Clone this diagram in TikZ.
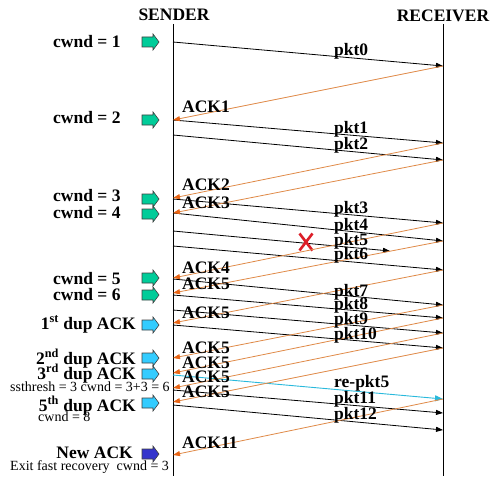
\documentclass[tikz,border=0pt]{standalone}
\usepackage{fontspec}
\setmainfont{Liberation Serif}
\usetikzlibrary{arrows.meta}
\definecolor{ackor}{RGB}{224,138,72}
\definecolor{acktip}{RGB}{232,100,20}
\definecolor{cwndg}{RGB}{0,204,153}
\definecolor{dupb}{RGB}{51,204,255}
\definecolor{newb}{RGB}{51,51,204}
\definecolor{rpkt}{RGB}{40,185,220}
\definecolor{lostx}{RGB}{220,30,40}
\begin{document}
\begin{tikzpicture}[x=1pt,y=-1pt,
  big/.style={font=\fontsize{17.5}{18}\selectfont\bfseries, inner sep=0pt},
  small/.style={font=\fontsize{14}{15}\selectfont, inner sep=0pt},
  pktline/.style={draw=black, line width=0.8pt, -{Triangle[length=7pt,width=5pt]}},
  ackline/.style={draw=ackor, line width=0.8pt, -{Triangle[length=7pt,width=5pt,color=acktip]}},
  reline/.style={draw=rpkt, line width=0.9pt, -{Triangle[length=8pt,width=6pt]}},
  lifeline/.style={draw=black, line width=1pt},
  blockarrow/.pic={\path[pic actions] (-8.5,-5) -- (2.5,-5) -- (2.5,-8) -- (8.5,0) -- (2.5,8) -- (2.5,5) -- (-8.5,5) -- cycle;},
  cwndarrow/.style={draw=black!75, line width=0.6pt, fill=cwndg},
  duparrow/.style={draw=black!75, line width=0.6pt, fill=dupb},
  newarrow/.style={draw=black!75, line width=0.6pt, fill=newb}
]
\fill[white] (0,0) rectangle (500,476);
\useasboundingbox (0,0) rectangle (500,476);

% lifelines
\node[big, anchor=base] (sender) at (174,21) {SENDER};
\node[big, anchor=base] (receiver) at (443,22) {RECEIVER};
\coordinate (stop) at (173,24); \coordinate (sbot) at (173,476);
\coordinate (rtop) at (443,24); \coordinate (rbot) at (443,476);
\draw[lifeline] (stop) -- (sbot);
\draw[lifeline] (rtop) -- (rbot);

% data packets
\foreach \a/\b [count=\i] in {42/66,120/143,135/160,199/223,213/241,246/270,279/305,295/318,310/333,325/348,390/413,405/430}{
  \coordinate (ps\i) at (173,\a);
  \coordinate (pr\i) at (443,\b);
  \draw[pktline] (ps\i) -- (pr\i);
}
% lost packet
\coordinate (lostS) at (173,231);
\coordinate (lostE) at (390,251);
\draw[pktline] (lostS) -- (lostE);
\coordinate (xc) at (306,242);
\draw[lostx, line width=2.6pt] ([shift={(-6.5,-8.5)}]xc) -- ([shift={(6.5,8.5)}]xc);
\draw[lostx, line width=2.6pt] ([shift={(6.5,-8.5)}]xc) -- ([shift={(-6.5,8.5)}]xc);
% retransmission
\coordinate (reS) at (173,375);
\coordinate (reR) at (443,399);
\draw[reline] (reS) -- (reR);

% acks
\foreach \a/\b [count=\i] in {66/120,143/198,160/213,223/278,241/293,270/323,305/358,318/373,333/388,348/402,399/455}{
  \coordinate (ar\i) at (443,\a);
  \coordinate (as\i) at (173,\b);
  \draw[ackline] (ar\i) -- (as\i);
}

% packet labels
\foreach \t/\y [count=\i] in {pkt0/56,pkt1/133,pkt2/149,pkt3/213,pkt4/230,pkt5/245,pkt6/259,pkt7/296,pkt8/309,pkt9/324,pkt10/339,re-pkt5/387,pkt11/403,pkt12/419}{
  \node[big, anchor=base west] (pl\i) at (334,\y) {\t};
}
% ack labels
\foreach \t/\y [count=\i] in {ACK1/113,ACK2/190,ACK3/208,ACK4/273,ACK5/289,ACK5/318,ACK5/353,ACK5/368,ACK5/382,ACK5/397,ACK11/448}{
  \node[big, anchor=base west] (al\i) at (182,\y) {\t};
}

% left side labels
\foreach \t/\y/\ya [count=\i] in {1/48/42,2/124/120,3/201/199,4/218/214,5/284/278,6/300/295}{
  \node[big, anchor=base west] (cw\i) at (53,\y) {cwnd = \t};
  \pic[cwndarrow] at (150.5,\ya) {blockarrow};
}
\node[big, anchor=base east] (dup1) at (136,329) {1\textsuperscript{st} dup ACK};
\node[big, anchor=base east] (dup2) at (136,364) {2\textsuperscript{nd} dup ACK};
\node[big, anchor=base east] (dup3) at (136,379) {3\textsuperscript{rd} dup ACK};
\node[big, anchor=base east] (dup5) at (136,411) {5\textsuperscript{th} dup ACK};
\pic[duparrow] at (150.5,325) {blockarrow};
\pic[duparrow] at (150.5,358) {blockarrow};
\pic[duparrow] at (150.5,374) {blockarrow};
\pic[duparrow] at (150.5,403) {blockarrow};
\node[small, anchor=base west] (ss) at (10,391) {ssthresh = 3 cwnd = 3+3 = 6};
\node[small, anchor=base west] (cw8) at (38,421) {cwnd = 8};
\node[big, anchor=base east] (newack) at (133,458) {New ACK};
\pic[newarrow] at (150.5,454) {blockarrow};
\node[small, anchor=base west] (exitfr) at (10,470) {Exit fast recovery\ \ cwnd = 3};
\end{tikzpicture}
\end{document}
